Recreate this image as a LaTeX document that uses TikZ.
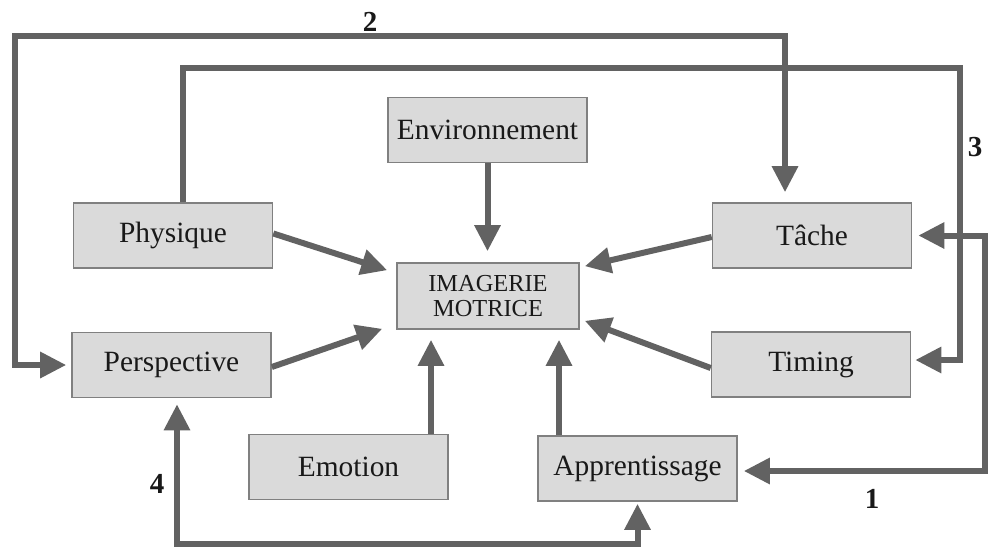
\documentclass[tikz,border=0pt]{standalone}
\usepackage{fontspec}
\setmainfont{Liberation Serif}
\newfontfamily\tnr{Liberation Serif}
\usetikzlibrary{arrows.meta,calc}
\definecolor{linec}{RGB}{98,98,98}
\definecolor{boxfill}{RGB}{218,218,218}
\definecolor{boxline}{RGB}{128,128,128}
\definecolor{txt}{RGB}{25,25,25}
\begin{document}
\begin{tikzpicture}[x=0.5pt,y=-0.5pt,
  box/.style={draw=boxline,fill=boxfill,line width=0.8pt,minimum width=99.5pt,minimum height=32.5pt,inner sep=0pt,text=txt,font=\tnr\fontsize{14.7}{17}\selectfont},
  imgbox/.style={box,minimum width=91pt,minimum height=33pt,align=center,font=\tnr\fontsize{12.2}{12.5}\selectfont},
  tipA/.tip={Triangle[length=13pt,width=12.5pt]},
  arr/.style={draw=linec,line width=3pt,-tipA},
  dbl/.style={draw=linec,line width=3pt,tipA-tipA},
  lab/.style={text=txt,font=\tnr\bfseries\fontsize{14.5}{17}\selectfont}]
\useasboundingbox (0,0) rectangle (988,551);
\fill[white] (0,0) rectangle (988,551);
% boxes
\node[box] (env) at (487.5,130) {Environnement};
\node[box] (phys) at (173,235.5) {Physique};
\node[box] (tache) at (812,235.5) {Tâche};
\node[imgbox] (img) at (488,296) {IMAGERIE\\MOTRICE};
\node[box] (persp) at (171.5,365) {Perspective};
\node[box] (timing) at (811,364.5) {Timing};
\node[box] (emo) at (348.5,467) {Emotion};
\node[box] (appr) at (637.5,468.5) {Apprentissage};
% arrows into IMAGERIE MOTRICE
\draw[arr,shorten >=5.5pt] (env.south) -- (env.south |- img.north);
\draw[arr] ([yshift=1pt]phys.east) -- ($(img.north west)+(-9,8)$);
\draw[arr] ([yshift=-1pt]persp.east) -- ($(img.south west)+(-14,-1)$);
\draw[arr,shorten >=5pt] ([xshift=41.25pt]emo.north) -- ([xshift=41.25pt]emo.north |- img.south);
\draw[arr,shorten >=5pt] ([xshift=-39.25pt]appr.north) -- ([xshift=-39.25pt]appr.north |- img.south);
\draw[arr] ([yshift=-0.75pt]tache.west) -- ($(img.north east)+(5,4)$);
\draw[arr] ([yshift=-1.75pt]timing.west) -- ($(img.south east)+(5,-9)$);
% loop 2
\coordinate (c2a) at (785,36);
\coordinate (c2b) at (15,36);
\draw[dbl,shorten <=5pt,shorten >=2.5pt] ([xshift=-13.5pt]tache.north) -- (c2a) -- (c2b) -- (c2b |- persp.west) -- (persp.west);
% loop 3
\coordinate (c3b) at (960,68);
\draw[arr,shorten >=2pt] ([xshift=5pt]phys.north) |- (c3b) |- ([yshift=2.25pt]timing.east);
% loop 1
\coordinate (c1) at (985,0);
\draw[dbl,shorten <=3pt,shorten >=3pt] (tache.east) -| ([yshift=-1.25pt]appr.east -| c1) -- ([yshift=-1.25pt]appr.east);
% loop 4
\coordinate (c4) at (0,544);
\draw[dbl,shorten <=3pt,shorten >=1pt] ([xshift=2.75pt]persp.south) |- (c4 -| appr.south) -- (appr.south);
% labels
\node[lab] (l2) at (370,22) {2};
\node[lab] (l3) at (975,147) {3};
\node[lab] (l1) at (872,499) {1};
\node[lab] (l4) at (157,484) {4};
\end{tikzpicture}
\end{document}
